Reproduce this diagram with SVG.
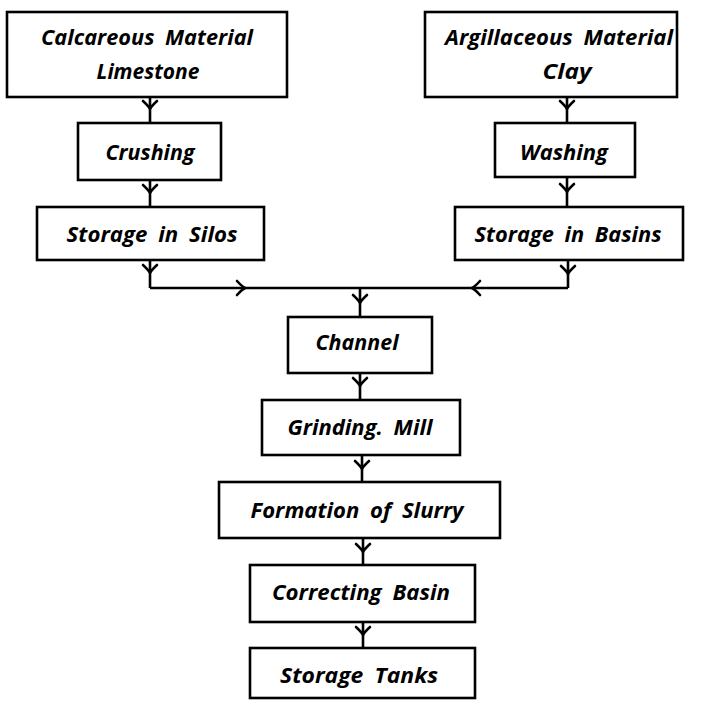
<svg xmlns="http://www.w3.org/2000/svg" width="705" height="702" viewBox="0 0 705 702">
<style>
  .box { fill: #fff; stroke: #000; stroke-width: 2.6; }
  .lbl { font-family: "Open Sans", "DejaVu Sans", sans-serif; font-weight: bold; font-style: italic; font-size: 22px; word-spacing: 5px; fill: #000; text-anchor: middle; }
  .con { fill: none; stroke: #000; stroke-width: 2.6; marker-mid: url(#arr); }
</style>
<defs>
  <marker id="arr" markerUnits="userSpaceOnUse" markerWidth="20" markerHeight="20" viewBox="-10 -10 20 20" refX="0" refY="0" orient="auto" overflow="visible">
    <path d="M-8,-7 Q-3,-1.5 0,0 Q-3,1.5 -8,7" fill="none" stroke="#000" stroke-width="2.6" stroke-linecap="round"/>
  </marker>
</defs>
<rect width="705" height="702" fill="#fff"/>

<g id="connectors">
  <path class="con" d="M150 97 L150 109 L150 123"/>
  <path class="con" d="M150 180 L150 193 L150 207"/>
  <path class="con" d="M567 97 L567 109 L567 123"/>
  <path class="con" d="M567 177 L567 192 L567 207"/>
  <path class="con" d="M150 260 L150 273 L150 288"/>
  <path class="con" d="M150 288 L245 288 L360 288"/>
  <path class="con" d="M568 260 L568 274 L568 288"/>
  <path class="con" d="M568 288 L472 288 L360 288"/>
  <path class="con" d="M360 288 L360 303 L360 317"/>
  <path class="con" d="M360 373 L360 386 L360 400"/>
  <path class="con" d="M362 455 L362 469 L362 482"/>
  <path class="con" d="M363 538 L363 552 L363 565"/>
  <path class="con" d="M363 622 L363 635 L363 648"/>
</g>

<g id="calcareous">
  <rect class="box" x="7" y="12" width="280" height="85"/>
  <text class="lbl" x="147" y="45" textLength="212" lengthAdjust="spacingAndGlyphs">Calcareous Material</text>
  <text class="lbl" x="148" y="79" textLength="103" lengthAdjust="spacingAndGlyphs">Limestone</text>
</g>
<g id="crushing">
  <rect class="box" x="78" y="123" width="143" height="57"/>
  <text class="lbl" x="150" y="160" textLength="89" lengthAdjust="spacingAndGlyphs">Crushing</text>
</g>
<g id="silos">
  <rect class="box" x="37" y="207" width="227" height="53"/>
  <text class="lbl" x="152" y="242" textLength="171" lengthAdjust="spacingAndGlyphs">Storage in Silos</text>
</g>
<g id="argillaceous">
  <rect class="box" x="425" y="12" width="252" height="85"/>
  <text class="lbl" x="559" y="45" textLength="228" lengthAdjust="spacingAndGlyphs">Argillaceous Material</text>
  <text class="lbl" x="567" y="79" textLength="49" lengthAdjust="spacingAndGlyphs">Clay</text>
</g>
<g id="washing">
  <rect class="box" x="495" y="123" width="140" height="54"/>
  <text class="lbl" x="564" y="160" textLength="88" lengthAdjust="spacingAndGlyphs">Washing</text>
</g>
<g id="basins">
  <rect class="box" x="455" y="207" width="228" height="53"/>
  <text class="lbl" x="568" y="242" textLength="187" lengthAdjust="spacingAndGlyphs">Storage in Basins</text>
</g>
<g id="channel">
  <rect class="box" x="288" y="317" width="144" height="56"/>
  <text class="lbl" x="357" y="350" textLength="83" lengthAdjust="spacingAndGlyphs">Channel</text>
</g>
<g id="grinding">
  <rect class="box" x="262" y="400" width="198" height="55"/>
  <text class="lbl" x="360" y="435" textLength="145" lengthAdjust="spacingAndGlyphs">Grinding. Mill</text>
</g>
<g id="slurry">
  <rect class="box" x="219" y="482" width="281" height="56"/>
  <text class="lbl" x="357" y="518" textLength="213" lengthAdjust="spacingAndGlyphs">Formation of Slurry</text>
</g>
<g id="correcting">
  <rect class="box" x="250" y="565" width="225" height="57"/>
  <text class="lbl" x="361" y="600" textLength="178" lengthAdjust="spacingAndGlyphs">Correcting Basin</text>
</g>
<g id="tanks">
  <rect class="box" x="250" y="648" width="225" height="50"/>
  <text class="lbl" x="359" y="683" textLength="158" lengthAdjust="spacingAndGlyphs">Storage Tanks</text>
</g>
</svg>
